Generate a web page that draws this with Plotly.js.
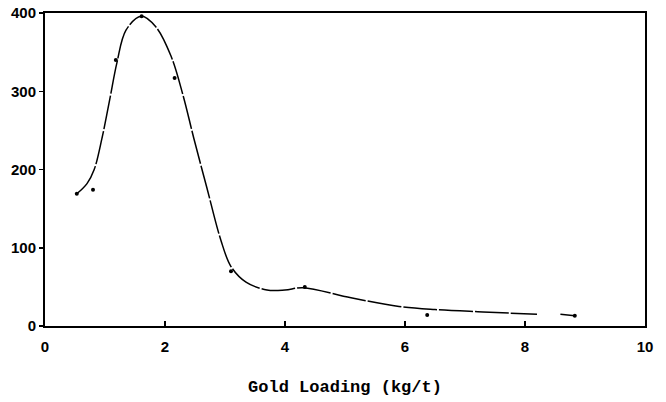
<!DOCTYPE html>
<html><head><meta charset="utf-8">
<script src="https://cdn.plot.ly/plotly-3.0.1.min.js"></script>
<style>html,body{margin:0;padding:0;background:#fff}</style>
</head><body>
<div id="chart" style="width:666px;height:402px"></div>
<script>
const pointX = [0.53, 0.80, 1.18, 1.61, 2.16, 3.10, 4.33, 6.37, 8.83];
const pointY = [169, 174, 340, 396, 317, 70, 50, 14, 13];
const curveX = [0.53, 0.70, 0.82, 0.95, 1.08, 1.20, 1.35, 1.60, 1.85, 2.10, 2.30, 2.48, 2.70, 2.93, 3.10, 3.35, 3.70, 4.00, 4.30, 5.10, 5.90, 6.50, 7.30, 8.20];
const curveY = [169, 182, 200, 240, 290, 337, 378, 396, 382, 345, 295, 240, 176, 110, 76, 56, 46, 46, 49, 36, 25, 21, 18, 15];
const tailX = [8.59, 8.83];
const tailY = [15, 13];
const xTicks = [0, 2, 4, 6, 8, 10];
const yTicks = [0, 100, 200, 300, 400];

const traces = [
  {x: curveX, y: curveY, mode: 'lines', line: {color: '#000', width: 1.5, shape: 'spline', smoothing: 1, dash: '34px,2px'}, hoverinfo: 'skip'},
  {x: tailX, y: tailY, mode: 'lines', line: {color: '#000', width: 1.5}, hoverinfo: 'skip'},
  {x: pointX, y: pointY, mode: 'markers', marker: {color: '#000', size: 4}}
];
const tickFont = {family: 'Liberation Sans, Arial, sans-serif', size: 15, weight: 'bold', color: '#000'};
const layout = {
  width: 666, height: 402,
  margin: {l: 45, r: 21, t: 13, b: 76},
  paper_bgcolor: '#fff', plot_bgcolor: '#fff',
  showlegend: false,
  font: {family: 'Liberation Sans, Arial, sans-serif', color: '#000'},
  xaxis: {
    range: [0, 10], tickvals: xTicks, ticktext: xTicks.map(String),
    showgrid: false, zeroline: false,
    showline: true, linecolor: '#000', linewidth: 2, mirror: true,
    ticks: 'inside', ticklen: 5, tickwidth: 1.5, tickcolor: '#000',
    ticklabelstandoff: 6,
    tickfont: tickFont,
    title: {text: 'Gold Loading (kg/t)', font: {family: 'Liberation Mono, Courier New, monospace', size: 17, weight: 'bold', color: '#000'}, standoff: 26}
  },
  yaxis: {
    range: [0, 400], tickvals: yTicks, ticktext: yTicks.map(String),
    showgrid: false, zeroline: false,
    showline: true, linecolor: '#000', linewidth: 2, mirror: true,
    ticks: 'outside', ticklen: 4, tickwidth: 1.5, tickcolor: '#000',
    tickfont: tickFont
  }
};
Plotly.newPlot('chart', traces, layout, {displayModeBar: false, staticPlot: true});
</script>
</body></html>
